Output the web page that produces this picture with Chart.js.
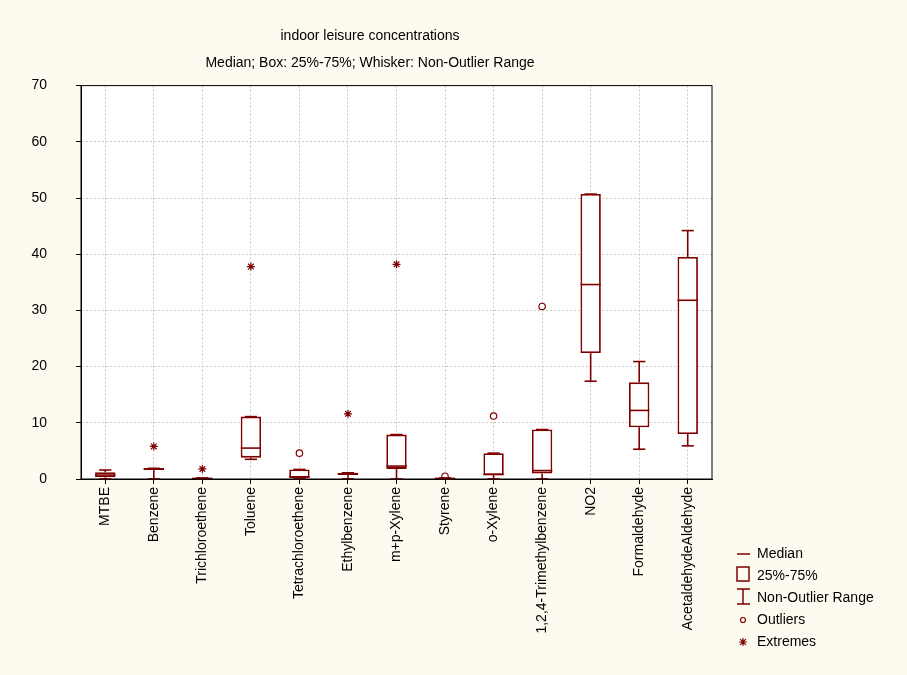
<!DOCTYPE html>
<html><head><meta charset="utf-8">
<script src="https://cdn.jsdelivr.net/npm/chart.js@4"></script>
<style>body{margin:0;background:#fdfbf0}#wrap{width:907px;height:675px}</style>
</head><body><div id="wrap"><canvas id="c"></canvas></div>
<script>
const categories = ["MTBE","Benzene","Trichloroethene","Toluene","Tetrachloroethene","Ethylbenzene","m+p-Xylene","Styrene","o-Xylene","1,2,4-Trimethylbenzene","NO2","Formaldehyde","AcetaldehydeAldehyde"];
const q1     = [0.3, 1.6, 0.0, 3.8, 0.2, 0.7, 1.8, 0.0, 0.7, 1.0, 22.4, 9.2, 8.0];
const median = [0.7, 1.8, 0.1, 5.5, 0.4, 0.9, 2.3, 0.1, 0.8, 1.5, 34.6, 12.2, 31.8];
const q3     = [1.2, 1.9, 0.2, 11.1, 1.7, 1.1, 7.9, 0.2, 4.6, 8.8, 50.7, 17.2, 39.5];
const wMin   = [0.0, 0.0, 0.0, 3.5, 0.0, 0.0, 0.0, 0.0, 0.0, 0.0, 17.4, 5.3, 5.9];
const wMax   = [1.6, 1.9, 0.2, 11.1, 1.7, 1.1, 7.9, 0.2, 4.6, 8.8, 50.7, 20.9, 44.2];
const outliers = [null,null,null,null,4.6,null,null,0.5,11.2,30.7,null,null,null];
const extremes = [null,5.8,1.8,37.8,null,11.6,38.2,null,null,null,null,null,null];
const yTicks = [0,10,20,30,40,50,60,70];
const RED = "#7f0000";

const boxPlugin = {
  id: "boxes",
  afterDatasetsDraw(chart) {
    const ctx = chart.ctx, x = chart.scales.x, y = chart.scales.y, a = chart.chartArea;
    const meta = chart.getDatasetMeta(0);
    ctx.save();
    ctx.strokeStyle = RED; ctx.lineWidth = 1.6;
    categories.forEach((c, i) => {
      const bar = meta.data[i];
      const cx = x.getPixelForValue(i), hw = bar.width / 2;
      const ln = (x1, y1, x2, y2) => { ctx.beginPath(); ctx.moveTo(x1, y1); ctx.lineTo(x2, y2); ctx.stroke(); };
      ln(cx - hw, y.getPixelForValue(median[i]), cx + hw, y.getPixelForValue(median[i]));
      ln(cx, y.getPixelForValue(q3[i]), cx, y.getPixelForValue(wMax[i]));
      ln(cx, y.getPixelForValue(q1[i]), cx, y.getPixelForValue(wMin[i]));
      ln(cx - hw * 0.6, y.getPixelForValue(wMax[i]), cx + hw * 0.6, y.getPixelForValue(wMax[i]));
      ln(cx - hw * 0.6, y.getPixelForValue(wMin[i]), cx + hw * 0.6, y.getPixelForValue(wMin[i]));
    });
    ctx.strokeStyle = "#000"; ctx.lineWidth = 1;
    ctx.strokeRect(a.left, a.top, a.right - a.left, a.bottom - a.top);
    const lx = 737, items = ["Median","25%-75%","Non-Outlier Range","Outliers","Extremes"];
    ctx.font = "14px 'Liberation Sans', Arial, sans-serif"; ctx.fillStyle = "#000"; ctx.textBaseline = "middle";
    items.forEach((t, k) => { ctx.fillText(t, lx + 20, 554 + k * 22); });
    ctx.strokeStyle = RED; ctx.lineWidth = 1.5;
    ctx.beginPath(); ctx.moveTo(lx, 554); ctx.lineTo(lx + 13, 554); ctx.stroke();
    ctx.strokeRect(lx, 567, 12, 14);
    ctx.beginPath(); ctx.moveTo(lx, 589); ctx.lineTo(lx + 13, 589); ctx.moveTo(lx + 6, 589); ctx.lineTo(lx + 6, 604);
    ctx.moveTo(lx, 604); ctx.lineTo(lx + 13, 604); ctx.stroke();
    ctx.lineWidth = 1.2;
    ctx.beginPath(); ctx.arc(lx + 6, 620, 2.5, 0, Math.PI * 2); ctx.stroke();
    ctx.beginPath();
    for (let k = 0; k < 4; k++) {
      const ang = k * Math.PI / 4;
      ctx.moveTo(lx + 6 - 4 * Math.cos(ang), 642 - 4 * Math.sin(ang));
      ctx.lineTo(lx + 6 + 4 * Math.cos(ang), 642 + 4 * Math.sin(ang));
    }
    ctx.stroke();
    ctx.restore();
  }
};
const bgPlugin = {
  id: "bg",
  beforeDraw(chart) {
    const ctx = chart.ctx, a = chart.chartArea;
    ctx.save(); ctx.fillStyle = "#fdfbf0"; ctx.fillRect(0, 0, chart.width, chart.height);
    ctx.fillStyle = "#fff"; ctx.fillRect(a.left, a.top, a.right - a.left, a.bottom - a.top); ctx.restore();
  }
};

new Chart(document.getElementById("c"), {
  data: {
    labels: categories,
    datasets: [
      { type: "bar", data: q1.map((v, i) => [v, q3[i]]), backgroundColor: "#fff", borderColor: RED, borderWidth: 1.8,
        borderSkipped: false, barPercentage: 0.42, categoryPercentage: 1 },
      { type: "line", data: outliers, showLine: false, pointStyle: "circle", pointRadius: 3.2, pointBorderColor: RED,
        pointBackgroundColor: "#fff", pointBorderWidth: 1.2 },
      { type: "line", data: extremes, showLine: false, pointStyle: "star", pointRadius: 4, pointBorderColor: RED,
        pointBorderWidth: 1.2 }
    ]
  },
  options: {
    responsive: true, maintainAspectRatio: false, animation: false,
    layout: { padding: { left: 28, right: 195, top: 6, bottom: 0 } },
    plugins: {
      legend: { display: false }, tooltip: { enabled: false },
      title: { display: true, text: "indoor leisure concentrations", color: "#000",
        font: { family: "'Liberation Sans', Arial", size: 14, weight: "normal" }, padding: { top: 22, bottom: 10 } },
      subtitle: { display: true, text: "Median; Box: 25%-75%; Whisker: Non-Outlier Range", color: "#000",
        font: { family: "'Liberation Sans', Arial", size: 14 }, padding: { bottom: 14 } }
    },
    scales: {
      x: { offset: true, afterFit: (s) => { s.height = 196; },
        grid: { offset: false, color: "#c8c8c8", tickColor: "#000", tickLength: 5 },
        border: { dash: [2, 2], color: "#000" },
        ticks: { color: "#000", maxRotation: 90, minRotation: 90, autoSkip: false,
          font: { family: "'Liberation Sans', Arial", size: 14 } } },
      y: { min: 0, max: 70, afterBuildTicks: (s) => { s.ticks = yTicks.map(v => ({ value: v })); },
        afterFit: (s) => { s.width = 53; },
        grid: { color: "#c8c8c8", tickColor: "#000", tickLength: 5 }, border: { dash: [2, 2], color: "#000" },
        ticks: { color: "#000", padding: 29, font: { family: "'Liberation Sans', Arial", size: 14 } } }
    }
  },
  plugins: [bgPlugin, boxPlugin]
});
</script></body></html>
